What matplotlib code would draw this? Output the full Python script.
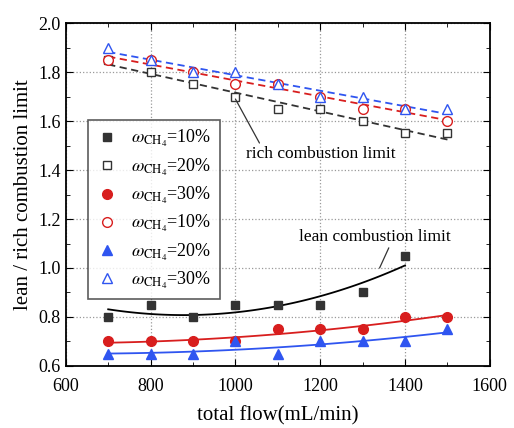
import numpy as np
import matplotlib
matplotlib.use('Agg')
import matplotlib.pyplot as plt
from matplotlib.ticker import MultipleLocator

plt.rcParams['font.family'] = ['Liberation Serif', 'DejaVu Serif']
plt.rcParams['mathtext.fontset'] = 'stix'

flow = [700, 800, 900, 1000, 1100, 1200, 1300, 1400, 1500]

# lean combustion limit
lean_10 = [0.80, 0.85, 0.80, 0.85, 0.85, 0.85, 0.90, 1.05]   # 700..1400
lean_30 = [0.70, 0.70, 0.70, 0.70, 0.75, 0.75, 0.75, 0.80, 0.80]
lean_20 = [0.65, 0.65, 0.65, 0.70, 0.65, 0.70, 0.70, 0.70, 0.75]

# rich combustion limit
rich_20 = [1.85, 1.80, 1.75, 1.70, 1.65, 1.65, 1.60, 1.55, 1.55]
rich_10 = [1.85, 1.85, 1.80, 1.75, 1.75, 1.70, 1.65, 1.65, 1.60]
rich_30 = [1.90, 1.85, 1.80, 1.80, 1.75, 1.70, 1.70, 1.65, 1.65]

black = '#333333'
red = '#d81e1e'
blue = '#2f55f0'

fig = plt.figure(figsize=(5.14, 4.28), dpi=100)
ax = fig.add_axes([0.128, 0.145, 0.825, 0.801])


def fit(x, y, deg, color, ls):
    xs = np.linspace(x[0], x[-1], 100)
    p = np.polyfit(x, y, deg)
    ax.plot(xs, np.polyval(p, xs), color=color, ls=ls, lw=1.3, zorder=2)


fit(flow[:8], lean_10, 2, 'black', '-')
fit(flow, lean_30, 2, red, '-')
fit(flow, lean_20, 2, blue, '-')
fit(flow, rich_20, 1, black, (0, (4, 2.5)))
fit(flow, rich_10, 1, red, (0, (4, 2.5)))
fit(flow, rich_30, 1, blue, (0, (4, 2.5)))

lab = r'$\omega_{\mathrm{CH_4}}$=%d%%'
ms = 7
ax.plot(flow[:8], lean_10, 's', color=black, ms=ms - 1, label=lab % 10, zorder=3)
ax.plot(flow, rich_20, 's', mfc='white', mec=black, ms=ms - 1, label=lab % 20, zorder=3)
ax.plot(flow, lean_30, 'o', color=red, ms=ms, label=lab % 30, zorder=3)
ax.plot(flow, rich_10, 'o', mfc='white', mec=red, ms=ms, label=lab % 10, zorder=3)
ax.plot(flow, lean_20, '^', color=blue, ms=ms, label=lab % 20, zorder=3)
ax.plot(flow, rich_30, '^', mfc='white', mec=blue, ms=ms, label=lab % 30, zorder=3)

ax.set_xlim(600, 1600)
ax.set_ylim(0.6, 2.0)
ax.xaxis.set_major_locator(MultipleLocator(200))
ax.xaxis.set_minor_locator(MultipleLocator(100))
ax.yaxis.set_major_locator(MultipleLocator(0.2))
ax.yaxis.set_minor_locator(MultipleLocator(0.1))
ax.yaxis.set_major_formatter(matplotlib.ticker.FormatStrFormatter('%.1f'))
ax.tick_params(which='both', direction='in', top=True, right=True, labelsize=13)
ax.tick_params(which='major', length=5)
ax.tick_params(which='minor', length=3)
ax.tick_params(axis='x', which='major', pad=9)
ax.grid(True, which='major', ls=':', color='#999999', lw=0.9)
for s in ax.spines.values():
    s.set_linewidth(1.3)

ax.set_xlabel('total flow(mL/min)', fontsize=15, labelpad=8)
ax.set_ylabel('lean / rich combustion limit', fontsize=15, labelpad=4)

leg = ax.legend(loc='upper left', bbox_to_anchor=(0.052, 0.717), fontsize=13,
                frameon=True, fancybox=False, edgecolor='#333333',
                handlelength=1.2, handletextpad=0.75, labelspacing=0.4,
                borderpad=0.45, borderaxespad=0)
leg.get_frame().set_linewidth(1.2)

ax.annotate('rich combustion limit', xy=(1000, 1.69), xytext=(1025, 1.45),
            fontsize=12.5, arrowprops=dict(arrowstyle='-', color='#333333', lw=0.9,
                                           shrinkA=0, shrinkB=0,
                                           relpos=(0.1, 1.0)))
ax.annotate('lean combustion limit', xy=(1340, 1.0), xytext=(1150, 1.11),
            fontsize=12.5, arrowprops=dict(arrowstyle='-', color='#333333', lw=0.9,
                                           shrinkA=0, shrinkB=0,
                                           relpos=(0.6, 0.0)))

fig.savefig('out.png', dpi=100)
